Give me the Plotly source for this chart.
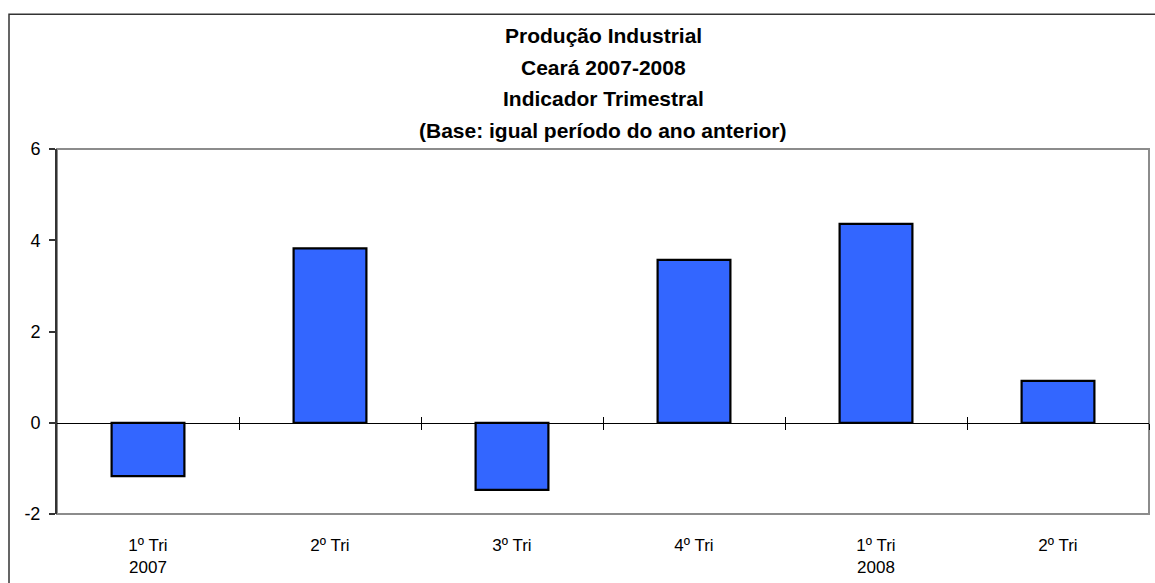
import plotly.graph_objects as go

# ---------------------------------------------
# Dados
# ---------------------------------------------
TITLE_LINES = [
    "Produção Industrial",
    "Ceará 2007-2008",
    "Indicador Trimestral",
    "(Base: igual período do ano anterior)",
]
QUARTERS = ["1º Tri", "2º Tri", "3º Tri", "4º Tri", "1º Tri", "2º Tri"]
YEARS = ["2007", "", "", "", "2008", ""]
VALUES = [-1.17, 3.82, -1.47, 3.57, 4.36, 0.92]
Y_TICKS = [-2, 0, 2, 4, 6]
Y_TICK_TEXT = ["-2", "0", "2", "4", "6"]

Y_MIN, Y_MAX = -2, 6
FONT = "Liberation Sans, Arial, sans-serif"
BAR_COLOR = "#3366FF"

W, H = 1155, 583
M_L, M_R, M_T, M_B = 57, 6, 149, 63
PLOT_W = W - M_L - M_R
PLOT_H = H - M_T - M_B

xs = list(range(len(VALUES)))
labels = [q + ("<br>" + y if y else "<br> ") for q, y in zip(QUARTERS, YEARS)]
boundaries = [i + 0.5 for i in xs]
zero_pos = (0 - Y_MIN) / (Y_MAX - Y_MIN)

fig = go.Figure()
fig.add_trace(go.Bar(
    x=xs,
    y=VALUES,
    width=0.4,
    marker=dict(color=BAR_COLOR, line=dict(color="black", width=2.2)),
    showlegend=False,
))

# eixo zero com marcas cruzadas (estilo Excel)
axis_common = dict(
    overlaying="x", anchor="free", position=zero_pos,
    range=[-0.5, len(VALUES) - 0.5], tickvals=boundaries,
    showticklabels=False, showgrid=False, zeroline=False,
    showline=True, linecolor="black", linewidth=1,
    ticklen=6, tickcolor="black", tickwidth=1,
)
fig.add_trace(go.Scatter(x=[None], y=[None], xaxis="x2", showlegend=False, hoverinfo="skip"))
fig.add_trace(go.Scatter(x=[None], y=[None], xaxis="x3", showlegend=False, hoverinfo="skip"))

# borda externa
fig.add_shape(type="rect", xref="paper", yref="paper",
              x0=(9 - M_L) / PLOT_W, x1=(W + 20 - M_L) / PLOT_W,
              y0=-(H + 20 - M_T - PLOT_H) / PLOT_H, y1=1 + (M_T - 12) / PLOT_H,
              line=dict(color="#333333", width=1.5), layer="below")
# borda da área do gráfico
fig.add_shape(type="rect", xref="paper", yref="paper", x0=0, x1=1, y0=0, y1=1,
              line=dict(color="#8c8c8c", width=2), layer="below")

# título em linhas separadas
for k, line in enumerate(TITLE_LINES):
    y_px = 34 + k * 32
    fig.add_annotation(
        text="<b>" + line + "</b>", xref="paper", yref="paper",
        x=0.5, y=1 + (M_T - y_px) / PLOT_H, xanchor="center", yanchor="middle",
        showarrow=False, font=dict(family=FONT, size=21, color="black"),
    )

fig.update_layout(
    width=W, height=H,
    margin=dict(l=M_L, r=M_R, t=M_T, b=M_B),
    paper_bgcolor="white", plot_bgcolor="white",
    font=dict(family=FONT, size=17, color="black"),
    xaxis=dict(
        range=[-0.5, len(VALUES) - 0.5], tickvals=xs, ticktext=labels,
        showgrid=False, zeroline=False, showline=False, ticks="",
        ticklabelstandoff=19, tickfont=dict(size=17),
    ),
    xaxis2=dict(axis_common, ticks="outside"),
    xaxis3=dict(axis_common, ticks="inside"),
    yaxis=dict(
        range=[Y_MIN, Y_MAX], tickvals=Y_TICKS, ticktext=Y_TICK_TEXT,
        showgrid=False, zeroline=False,
        showline=True, linecolor="#333333", linewidth=2,
        ticks="outside", ticklen=6, tickcolor="#333333", tickwidth=1.5,
        ticklabelstandoff=5, tickfont=dict(size=18),
    ),
)

fig.write_html("out.html", config={"displayModeBar": False},
               post_script="document.body.style.margin='0';")
